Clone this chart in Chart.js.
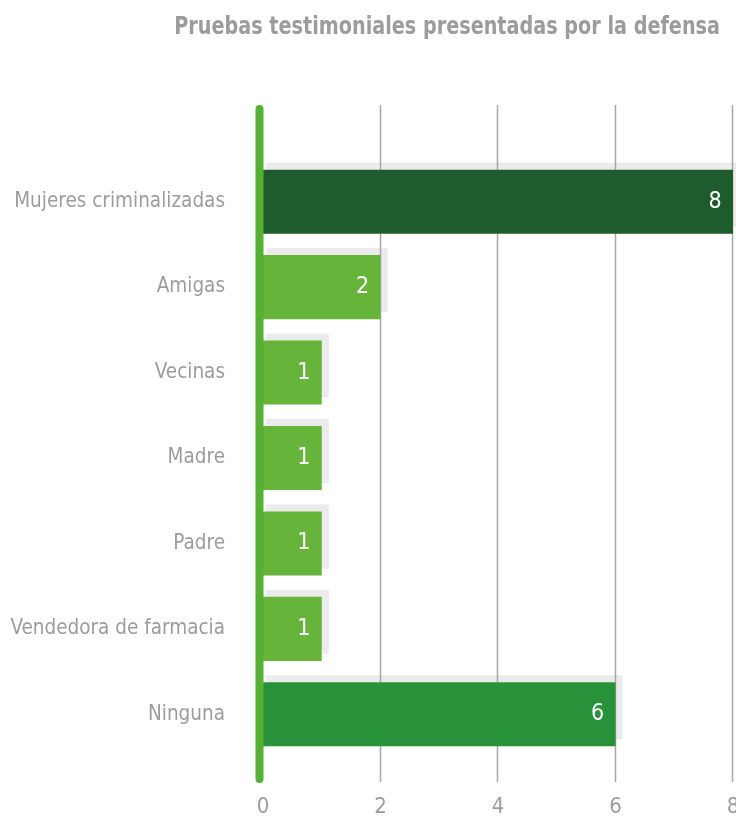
<!DOCTYPE html>
<html>
<head>
<meta charset="utf-8">
<script src="https://cdn.jsdelivr.net/npm/chart.js@4/dist/chart.umd.min.js"></script>
<style>
  html, body { margin: 0; padding: 0; background: #fff; }
  #wrap { width: 736px; height: 821px; }
</style>
</head>
<body>
<div id="wrap"><canvas id="myChart" width="736" height="821"></canvas></div>
<script>
const titleText = 'Pruebas testimoniales presentadas por la defensa';
const labels = ['Mujeres criminalizadas', 'Amigas', 'Vecinas', 'Madre', 'Padre', 'Vendedora de farmacia', 'Ninguna'];
const values = [8, 2, 1, 1, 1, 1, 6];
const barColors = ['#1e5c2d', '#66b43a', '#66b43a', '#66b43a', '#66b43a', '#66b43a', '#27923a'];
const tickValues = [0, 2, 4, 6, 8];

const fontFamily = "'Liberation Sans Narrow', 'DejaVu Sans Condensed', 'Roboto', sans-serif";

// shadows, grid lines, green axis line, value labels and title
const decor = {
  id: 'decor',
  beforeDatasetsDraw(chart) {
    const ctx = chart.ctx;
    const xs = chart.scales.x;
    const meta = chart.getDatasetMeta(0);
    ctx.save();
    ctx.fillStyle = '#ebebeb';
    meta.data.forEach((bar) => {
      const top = bar.y - bar.height / 2;
      ctx.fillRect(bar.base + 3, top - 7, bar.x - bar.base + 4, bar.height);
    });
    ctx.strokeStyle = '#a6a6a6';
    ctx.lineWidth = 1.5;
    tickValues.forEach((v) => {
      if (v === 0) return;
      const px = Math.round(xs.getPixelForValue(v)) - 0.5;
      ctx.beginPath();
      ctx.moveTo(px, 105);
      ctx.lineTo(px, 782);
      ctx.stroke();
    });
    ctx.restore();
  },
  afterDatasetsDraw(chart) {
    const ctx = chart.ctx;
    const xs = chart.scales.x;
    const meta = chart.getDatasetMeta(0);
    ctx.save();
    const zero = xs.getPixelForValue(0) - 3.5;
    ctx.strokeStyle = '#55b033';
    ctx.lineWidth = 8;
    ctx.lineCap = 'round';
    ctx.beginPath();
    ctx.moveTo(zero, 109);
    ctx.lineTo(zero, 779);
    ctx.stroke();

    ctx.fillStyle = '#ffffff';
    ctx.font = '23px ' + fontFamily;
    ctx.textAlign = 'center';
    ctx.textBaseline = 'middle';
    meta.data.forEach((bar, i) => {
      ctx.fillText(String(values[i]), bar.x - 18, bar.y);
    });

    // title is a condensed bold face in the original
    ctx.fillStyle = '#9c9c9c';
    ctx.font = 'bold 24px ' + fontFamily;
    ctx.textAlign = 'right';
    ctx.translate(720, 28);
    ctx.scale(0.89, 1);
    ctx.fillText(titleText, 0, 0);
    ctx.restore();
  }
};

const config = {
  type: 'bar',
  data: {
    labels: labels,
    datasets: [{
      data: values,
      backgroundColor: barColors,
      borderWidth: 0,
      barPercentage: 0.75,
      categoryPercentage: 1
    }]
  },
  options: {
    indexAxis: 'y',
    responsive: false,
    animation: false,
    layout: { padding: { top: 159, right: 3, bottom: 3, left: 0 } },
    plugins: {
      legend: { display: false },
      tooltip: { enabled: false }
    },
    scales: {
      x: {
        min: 0,
        max: 8,
        afterBuildTicks(axis) {
          axis.ticks = tickValues.map((v) => ({ value: v }));
        },
        afterFit(axis) {
          axis.height = 61;
          axis.paddingLeft = 0;
          axis.paddingRight = 0;
        },
        grid: { display: false, drawTicks: false },
        border: { display: false },
        ticks: {
          padding: 37,
          maxRotation: 0,
          color: '#9c9c9c',
          font: { family: fontFamily, size: 22 }
        }
      },
      y: {
        grid: { display: false, drawTicks: false },
        border: { display: false },
        afterFit(axis) { axis.width = 263; },
        ticks: {
          padding: 38,
          color: '#9c9c9c',
          font: { family: fontFamily, size: 20.5 }
        }
      }
    }
  },
  plugins: [decor]
};

const myChart = new Chart(document.getElementById('myChart'), config);
</script>
</body>
</html>
